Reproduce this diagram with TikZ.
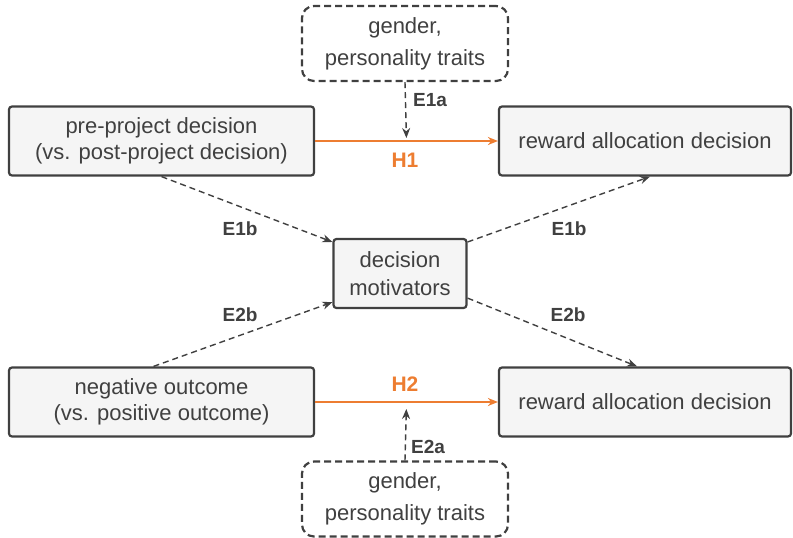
\documentclass[tikz,border=0pt]{standalone}
\usepackage{fontspec}
\setmainfont{Liberation Sans}
\usetikzlibrary{arrows.meta}

\definecolor{boxfill}{HTML}{F5F5F5}
\definecolor{darkline}{HTML}{404040}
\definecolor{hyporange}{HTML}{ED7D31}

\begin{document}
\begin{tikzpicture}[x=1pt,y=-1pt,
  var/.style={draw=darkline,line width=2.2pt,fill=boxfill,rounded corners=3pt,
    text=darkline,font=\fontsize{22}{26}\selectfont,align=center,
    inner sep=0pt,minimum height=69pt},
  moderator/.style={draw=darkline,line width=2.2pt,dash pattern=on 7pt off 4pt,
    rounded corners=12pt,text=darkline,font=\fontsize{22}{32}\selectfont,
    align=center,inner sep=0pt,minimum width=206pt,minimum height=75pt},
  effect/.style={draw=darkline,line width=1.4pt,dash pattern=on 6pt off 4pt,
    -{Stealth[length=10pt,width=8pt]}},
  hypo/.style={draw=hyporange,line width=2pt,-{Stealth[length=10pt,width=8pt]}},
  elabel/.style={text=darkline,font=\bfseries\fontsize{19}{22}\selectfont},
  hlabel/.style={text=hyporange,font=\bfseries\fontsize{21}{24}\selectfont}]
\useasboundingbox (0,0) rectangle (793,538);

% variables
\node[var,minimum width=305pt] (pre) at (161.5,141) {pre-project decision\\(vs. post-project decision)};
\node[var,minimum width=292pt] (rew1) at (645,141) {reward allocation decision};
\node[var,minimum width=133pt,font=\fontsize{22}{28}\selectfont] (mot) at (400,273.5) {decision\\motivators};
\node[var,minimum width=305pt] (neg) at (161.5,402) {negative outcome\\(vs. positive outcome)};
\node[var,minimum width=292pt] (rew2) at (645,402) {reward allocation decision};

% moderators
\node[moderator] (trait1) at (405,43.5) {gender,\\personality traits};
\node[moderator] (trait2) at (405,499) {gender,\\personality traits};

% hypotheses
\draw[hypo] (pre) -- coordinate[midway] (h1) (rew1);
\draw[hypo] (neg) -- coordinate[midway] (h2) (rew2);
\node[hlabel] (h1lab) at (405,160) {H1};
\node[hlabel] (h2lab) at (405,384) {H2};

% exploratory effects
\draw[effect,shorten >=3pt] (trait1.south) -- (h1);
\draw[effect,shorten >=7pt] (trait2.north) -- (h2);
\draw[effect] (pre.south) -- (mot.155);
\draw[effect] (mot.25) -- ([xshift=5pt]rew1.south);
\draw[effect] ([xshift=-8pt]neg.north) -- (mot.203);
\draw[effect] (mot.340) -- ([xshift=-8pt]rew2.north);

\node[elabel] (e1a) at (430,100) {E1a};
\node[elabel] (e2a) at (428,447) {E2a};
\node[elabel] (e1bl) at (240,229) {E1b};
\node[elabel] (e1br) at (569,229) {E1b};
\node[elabel] (e2bl) at (240,315) {E2b};
\node[elabel] (e2br) at (568,315) {E2b};
\end{tikzpicture}
\end{document}
